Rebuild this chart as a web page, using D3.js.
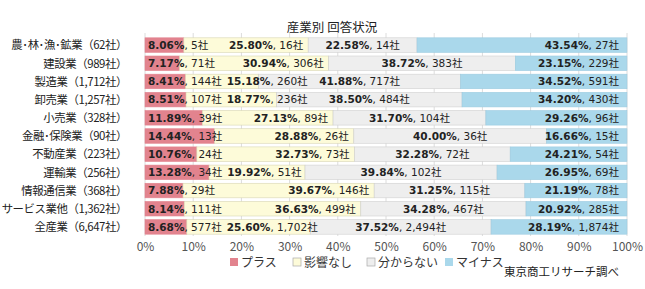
<!DOCTYPE html>
<html>
<head>
<meta charset="utf-8">
<script src="https://cdn.jsdelivr.net/npm/d3@7"></script>
<style>
  body { margin: 0; background: #fff; }
  svg { display: block; }
  .cat { font-family: "Noto Sans CJK JP", sans-serif; font-size: 11.4px; fill: #222; letter-spacing: -0.4px; }
  .lbl { font-family: "DejaVu Sans", "Noto Sans CJK JP", sans-serif; font-size: 10.5px; fill: #222; }
  .lbl .b { font-weight: bold; }
  .x.axis text { font-family: "Noto Sans CJK JP", sans-serif; font-size: 12px; fill: #555; }
</style>
</head>
<body>
<div id="chart"></div>
<script>
var categories = ["農･林･漁･鉱業（62社）", "建設業（989社）", "製造業（1,712社）", "卸売業（1,257社）",
	"小売業（328社）", "金融･保険業（90社）", "不動産業（223社）", "運輸業（256社）",
	"情報通信業（368社）", "サービス業他（1,362社）", "全産業（6,647社）"];
var seriesNames = ["プラス", "影響なし", "分からない", "マイナス"];
var plusPct = [8.06, 7.17, 8.41, 8.51, 11.89, 14.44, 10.76, 13.28, 7.88, 8.14, 8.68];
var plusN = ["5", "71", "144", "107", "39", "13", "24", "34", "29", "111", "577"];
var noEffectPct = [25.80, 30.94, 15.18, 18.77, 27.13, 28.88, 32.73, 19.92, 39.67, 36.63, 25.60];
var noEffectN = ["16", "306", "260", "236", "89", "26", "73", "51", "146", "499", "1,702"];
var unknownPct = [22.58, 38.72, 41.88, 38.50, 31.70, 40.00, 32.28, 39.84, 31.25, 34.28, 37.52];
var unknownN = ["14", "383", "717", "484", "104", "36", "72", "102", "115", "467", "2,494"];
var minusPct = [43.54, 23.15, 34.52, 34.20, 29.26, 16.66, 24.21, 26.95, 21.19, 20.92, 28.19];
var minusN = ["27", "229", "591", "430", "96", "15", "54", "69", "78", "285", "1,874"];
var xTicks = [0, 10, 20, 30, 40, 50, 60, 70, 80, 90, 100];

var colors = ["#e2838e", "#fdfbd9", "#eeeeee", "#aad8eb"];
var strokes = ["#e2838e", "#d8d6b4", "#d0d0d0", "#9ccbe0"];

var W = 645, H = 289;
var margin = { top: 36, right: 18, bottom: 53, left: 145 };
var width = W - margin.left - margin.right,
	height = H - margin.top - margin.bottom;

var svg = d3.select("#chart").append("svg").attr("width", W).attr("height", H);

svg.append("text")
	.attr("x", 332).attr("y", 32)
	.attr("text-anchor", "middle")
	.style("font-family", "Noto Sans CJK JP, sans-serif")
	.style("font-size", "12.5px").style("fill", "#222")
	.text("産業別 回答状況");

var g = svg.append("g").attr("transform", "translate(" + margin.left + "," + margin.top + ")");

var x = d3.scaleLinear().domain([0, 100]).range([0, width]);
var y = d3.scaleBand().domain(categories).range([0, height]).paddingInner(0.2).paddingOuter(0.1);

// gridlines
g.append("g").selectAll("line").data(xTicks).enter().append("line")
	.attr("x1", function (d) { return x(d); })
	.attr("x2", function (d) { return x(d); })
	.attr("y1", -3).attr("y2", height)
	.attr("stroke", "#dcdcdc").attr("stroke-width", 1);

// stacked rows
var rows = categories.map(function (c, i) {
	return {
		cat: c,
		vals: [plusPct[i], noEffectPct[i], unknownPct[i], minusPct[i]],
		ns: [plusN[i], noEffectN[i], unknownN[i], minusN[i]]
	};
});

rows.forEach(function (r) {
	var start = 0;
	r.segs = r.vals.map(function (v, k) {
		var s = { k: k, x0: start, x1: start + v, v: v, n: r.ns[k] };
		start += v;
		return s;
	});
});

var rowG = g.selectAll(".row").data(rows).enter().append("g")
	.attr("class", "row")
	.attr("transform", function (d) { return "translate(0," + y(d.cat) + ")"; });

rowG.selectAll("rect").data(function (d) { return d.segs; }).enter().append("rect")
	.attr("x", function (d) { return x(d.x0); })
	.attr("y", 0)
	.attr("width", function (d) { return x(d.x1) - x(d.x0); })
	.attr("height", y.bandwidth())
	.attr("fill", function (d) { return colors[d.k]; })
	.attr("stroke", function (d) { return strokes[d.k]; })
	.attr("stroke-width", 0.6);

// labels
rowG.each(function (r) {
	var row = d3.select(this);
	var ty = y.bandwidth() / 2 + 3.8;
	var plusEnd = 0;
	r.segs.forEach(function (s) {
		var t = row.append("text").attr("class", "lbl").attr("y", ty);
		t.append("tspan").attr("class", "b").text(s.v.toFixed(2) + "%");
		t.append("tspan").text(", " + s.n + "社");
		var w = t.node().getComputedTextLength();
		var lx;
		if (s.k === 0) {
			lx = x(s.x0) + 3;
			plusEnd = lx + w;
		} else if (s.k === 1) {
			lx = x(s.x1) - 5 - w;
			if (lx < plusEnd + 5) lx = plusEnd + 5;
		} else if (s.k === 2) {
			lx = (x(s.x0) + x(s.x1)) / 2 - w / 2;
		} else {
			lx = x(100) - 8 - w;
		}
		t.attr("x", lx);
	});
});

// category labels
g.selectAll(".cat").data(categories).enter().append("text")
	.attr("class", "cat")
	.attr("x", -18)
	.attr("y", function (d) { return y(d) + y.bandwidth() / 2 + 4.3; })
	.attr("text-anchor", "end")
	.text(function (d) { return d; });

// x axis
var xAxis = d3.axisBottom(x).tickValues(xTicks).tickSize(0).tickPadding(0)
	.tickFormat(function (d) { return d + "%"; });
var ax = g.append("g").attr("class", "x axis")
	.attr("transform", "translate(0," + (height + 6) + ")")
	.call(xAxis);
ax.select(".domain").remove();
ax.selectAll("text").attr("dy", "0.71em");

// legend
var legendX = [230, 293, 367, 445];
var leg = svg.append("g").selectAll(".leg").data(seriesNames).enter().append("g")
	.attr("transform", function (d, i) { return "translate(" + legendX[i] + ",262)"; });
leg.append("rect")
	.attr("x", 0).attr("y", -4).attr("width", 8).attr("height", 8)
	.attr("fill", function (d, i) { return colors[i]; })
	.attr("stroke", function (d, i) { return i === 1 || i === 2 ? "#aaa" : "none"; })
	.attr("stroke-width", 0.7);
leg.append("text")
	.attr("x", 11).attr("y", 4.5)
	.style("font-family", "Noto Sans CJK JP, sans-serif")
	.style("font-size", "12px").style("fill", "#333")
	.text(function (d) { return d; });

svg.append("text")
	.attr("x", 619).attr("y", 276)
	.attr("text-anchor", "end")
	.style("font-family", "Noto Sans CJK JP, sans-serif")
	.style("font-size", "11.5px").style("fill", "#222")
	.text("東京商工リサーチ調べ");
</script>
</body>
</html>
